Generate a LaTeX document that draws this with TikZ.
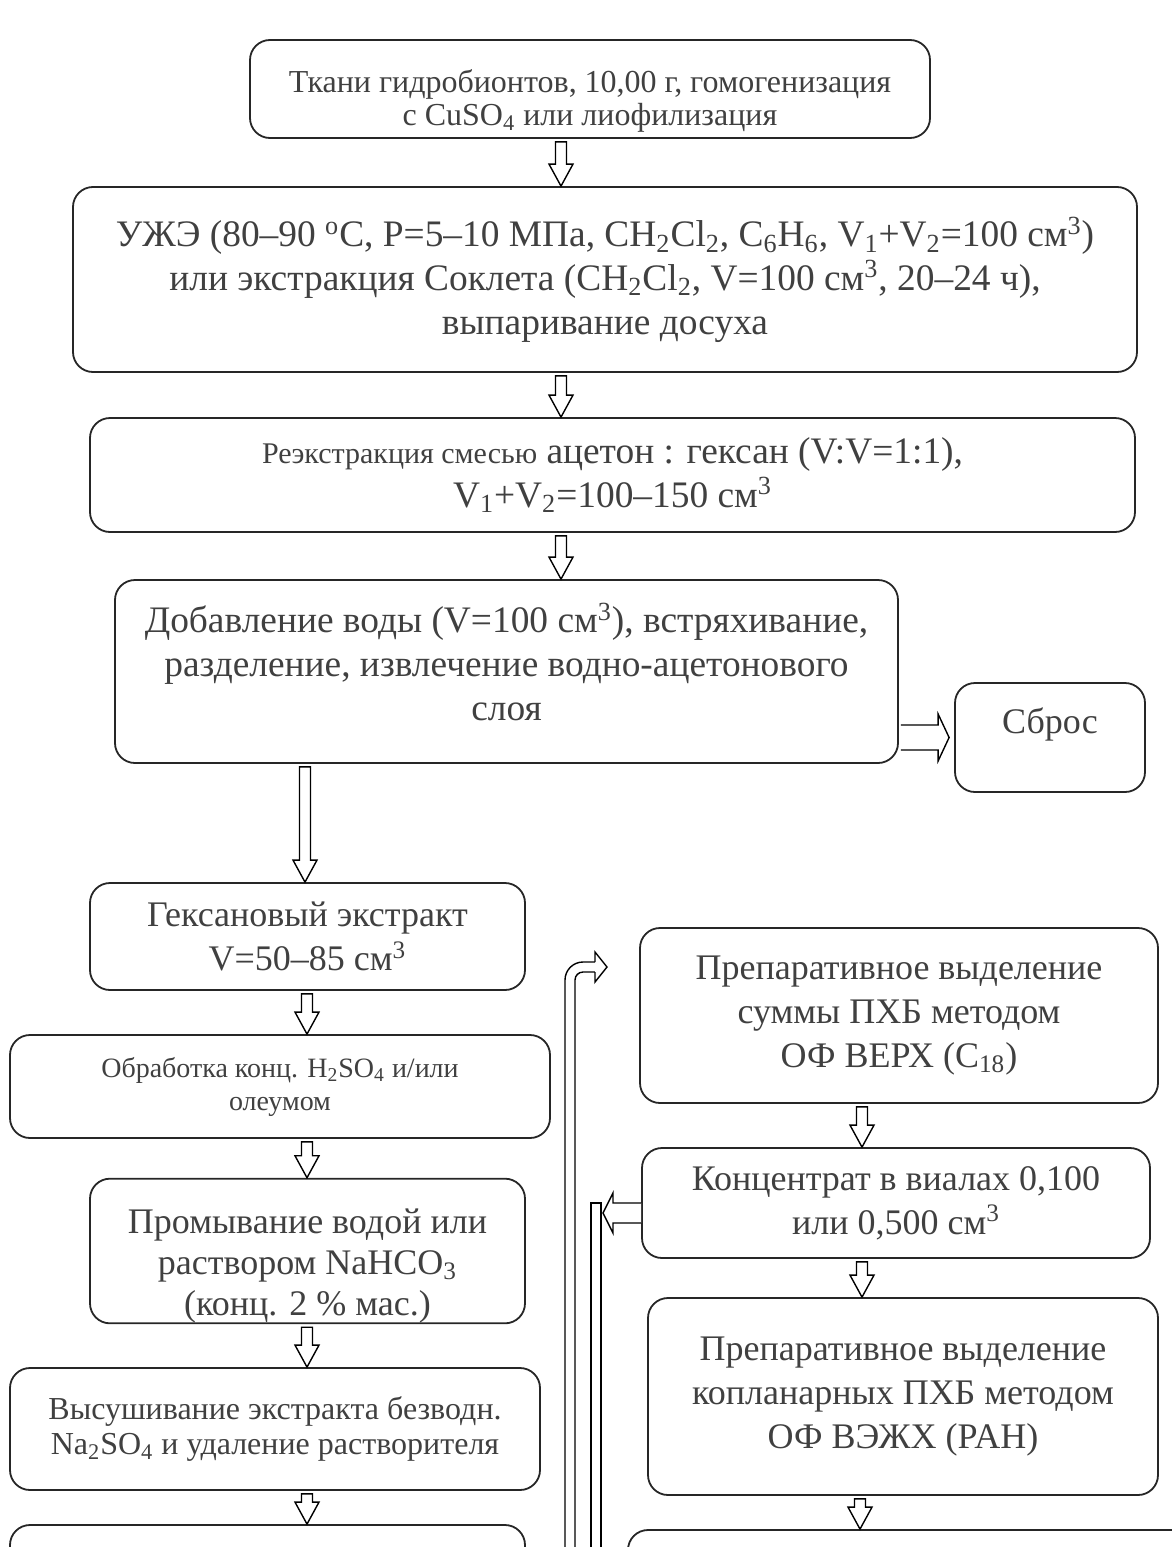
\documentclass[tikz,border=0pt]{standalone}
\usepackage{fontspec}
\setmainfont{Liberation Serif}
\usetikzlibrary{calc}

\begin{document}
\begin{tikzpicture}[x=0.5pt, y=-0.5pt,
  box/.style={draw=black!85, line width=0.9pt, rounded corners=10pt, align=center, text=black!75, inner sep=0pt},
  largetxt/.style={font=\fontsize{18.7}{21.8}\selectfont},
  bigtxt/.style={font=\fontsize{18}{22}\selectfont},
  midtxt/.style={font=\fontsize{16}{17.5}\selectfont},
  smalltxt/.style={font=\fontsize{14}{16.5}\selectfont},
  hollow/.style={draw=black, line width=0.7pt, fill=white, line join=miter},
  rail/.style={draw=black, line width=0.7pt}]
  \useasboundingbox (0,0) rectangle (1172,1547);
  \clip (0,0) rectangle (1172,1547);

  % main column
  \node[box, font=\fontsize{16}{16.5}\selectfont, minimum width=340pt, minimum height=49pt] (b1) at (590,89)
    {\rule{0pt}{23.5pt}Ткани гидробионтов, 10,00 г, гомогенизация\\ с CuSO\textsubscript{4} или лиофилизация};
  \node[box, largetxt, minimum width=532pt, minimum height=92.5pt] (b2) at (605,279.5)
    {УЖЭ (80–90 \textsuperscript{o}C, P=5–10 МПа, CH\textsubscript{2}Cl\textsubscript{2}, C\textsubscript{6}H\textsubscript{6}, V\textsubscript{1}+V\textsubscript{2}=100 см\textsuperscript{3})\\
     или экстракция Соклета (CH\textsubscript{2}Cl\textsubscript{2}, V=100 см\textsuperscript{3}, 20–24 ч),\\
     выпаривание досуха};
  \node[box, largetxt, minimum width=522.5pt, minimum height=57pt] (b3) at (612.5,475)
    {{\fontsize{15}{17}\selectfont Реэкстракция смесью} ацетон : гексан (V:V=1:1),\\
     V\textsubscript{1}+V\textsubscript{2}=100–150 см\textsuperscript{3}};
  \node[box, largetxt, minimum width=391.5pt, minimum height=91.5pt] (b4) at (506.5,671.5)
    {Добавление воды (V=100 см\textsuperscript{3}), встряхивание,\\
     разделение, извлечение водно-ацетонового\\ слоя\rule[-10pt]{0pt}{10pt}};
  \node[box, bigtxt, minimum width=95pt, minimum height=54.5pt] (drop) at (1050,737.5)
    {Сброс\rule[-17pt]{0pt}{17pt}};

  % left column
  \node[box, bigtxt, minimum width=217.5pt, minimum height=53.5pt] (hex) at (307.5,936.5)
    {Гексановый экстракт\\ V=50–85 см\textsuperscript{3}};
  \node[box, smalltxt, minimum width=270pt, minimum height=51.5pt] (acid) at (280,1086.5)
    {Обработка конц. H\textsubscript{2}SO\textsubscript{4} и/или\\ олеумом};
  \node[box, font=\fontsize{18}{20.5}\selectfont, minimum width=217.5pt, minimum height=71pt] (wash) at (307.5,1251)
    {\rule{0pt}{27.5pt}Промывание водой или\\ раствором NaHCO\textsubscript{3}\\ (конц. 2 \% мас.)};
  \node[box, midtxt, minimum width=265pt, minimum height=61pt] (dry) at (275,1429)
    {Высушивание экстракта безводн.\\ Na\textsubscript{2}SO\textsubscript{4} и удаление растворителя};
  \node[box, minimum width=257.5pt, minimum height=87.5pt] (l5) at (267.5,1612.5) {};

  % right column
  \node[box, bigtxt, minimum width=259pt, minimum height=87.5pt] (r1) at (899,1015.5)
    {Препаративное выделение\\ суммы ПХБ методом\\ ОФ ВЕРХ (C\textsubscript{18})};
  \node[box, bigtxt, minimum width=254pt, minimum height=55pt] (r2) at (896,1203)
    {Концентрат в виалах 0,100\\ или 0,500 см\textsuperscript{3}};
  \node[box, bigtxt, minimum width=255pt, minimum height=98.5pt] (r3) at (903,1396.5)
    {Препаративное выделение\\ копланарных ПХБ методом\\ ОФ ВЭЖХ (PAH)};
  \node[box, minimum width=296pt, minimum height=85pt] (r5) at (924,1615) {};

  % down arrows
  \foreach \px/\src/\dst in {561/b1/b2, 561/b2/b3, 561/b3/b4, 305/b4/hex, 307/hex/acid,
      307/acid/wash, 307/wash/dry, 307/dry/l5, 862/r1/r2, 862/r2/r3, 860/r3/r5}
    \draw[hollow] let \p1=(\px,0 |- \src.south), \p2=(\px,0 |- \dst.north) in
      (\x1-2.75pt,\y1-1.5pt) -- (\x1+2.75pt,\y1-1.5pt) -- (\x1+2.75pt,\y2+11pt)
      -- (\x1+6pt,\y2+11pt) -- (\x1,\y2) -- (\x1-6pt,\y2+11pt)
      -- (\x1-2.75pt,\y2+11pt) -- cycle;

  % to the waste box
  \draw[hollow] let \p1=(b4.east |- drop.west), \p2=(drop.west) in
    (\x1+1pt,\y2+6.25pt) -- (\x2-8pt,\y2+6.25pt) -- (\x2-8pt,\y2+11.75pt) -- (\x2-2.5pt,\y2)
    -- (\x2-8pt,\y2-11.75pt) -- (\x2-8pt,\y2-6.25pt) -- (\x1+1pt,\y2-6.25pt);

  % return rails
  \coordinate (railL) at (565,1560);
  \coordinate (railR) at (575,1560);
  \coordinate (tip) at (607,967);
  \draw[rail, rounded corners=9pt] (railL) -- (railL |- 0,962) -- (596,962);
  \draw[rail, rounded corners=4pt] (railR) -- (railR |- 0,972) -- (596,972);
  \draw[hollow] (595,962) -- (595,952) -- (tip) -- (595,982) -- (595,972);

  \coordinate (sink) at (603,1213);
  \draw[rail] (591,1560) -- (591,1203) -- (601,1203) -- (601,1560);
  \draw[hollow] let \p1=(r2.west |- sink), \p2=(sink) in
    (\x1,\y2+5pt) -- (\x2+5pt,\y2+5pt) -- (\x2+5pt,\y2+10pt) -- (\x2,\y2)
    -- (\x2+5pt,\y2-10pt) -- (\x2+5pt,\y2-5pt) -- (\x1,\y2-5pt);
\end{tikzpicture}
\end{document}
